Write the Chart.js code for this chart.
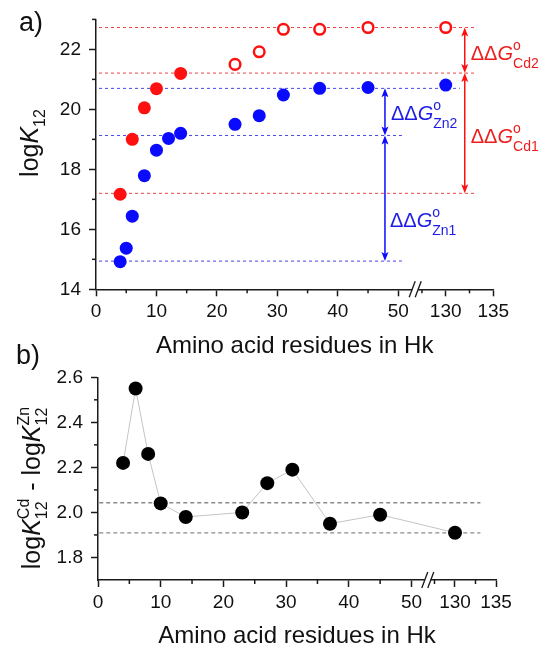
<!DOCTYPE html>
<html>
<head>
<meta charset="utf-8">
<script src="https://cdn.jsdelivr.net/npm/chart.js@4.4.1/dist/chart.umd.min.js"></script>
<style>
  html, body { margin: 0; padding: 0; background: #fff; }
  #wrap { position: relative; width: 541px; height: 648px; }
  canvas { position: absolute; left: 0; }
  #chart-a { top: 0; }
  #chart-b { top: 330px; }
</style>
</head>
<body>
<div id="wrap">
  <canvas id="chart-a" width="541" height="360"></canvas>
  <canvas id="chart-b" width="541" height="318"></canvas>
</div>
<script>
const FONT = '"Liberation Sans", Arial, sans-serif';
const AXIS = '#1a1a1a';
const RED = '#ff1010';
const BLUE = '#0a0aff';

// a) logK12 vs residues
const residues = [4, 5, 6, 8, 10, 12, 14, 23, 27, 31, 37, 45, 130];
const znLogK = [14.92, 15.37, 16.44, 17.79, 18.64, 19.03, 19.20, 19.50, 19.79, 20.48, 20.70, 20.73, 20.81];
const cdResiduesFilled = [4, 6, 8, 10, 14];
const cdLogKFilled = [17.17, 19.00, 20.05, 20.69, 21.20];
const cdResiduesOpen = [23, 27, 31, 37, 45, 130];
const cdLogKOpen = [21.50, 21.92, 22.67, 22.67, 22.73, 22.73];

// dashed levels and where they end
const cdLevels = [22.73, 21.21, 17.20];
const cdLevelEnds = [133.1, 133.1, 133.1];
const znLevels = [20.70, 19.13, 14.94];
const znLevelEnds = [131.5, 50.6, 50.6];
const cdArrowX = 132;
const znArrowX = 47.8;

// b) difference logK(Cd) - logK(Zn)
const diffResidues = [4, 6, 8, 10, 14, 23, 27, 31, 37, 45, 130];
const diffLogK = [2.22, 2.55, 2.26, 2.04, 1.98, 2.00, 2.13, 2.19, 1.95, 1.99, 1.91];
const diffLevels = [2.043, 1.909];
const diffLevelEnds = [133.1, 133.1];

const xTicks = [0, 10, 20, 30, 40, 50, 130, 135];
const xMinor = [5, 15, 25, 35, 45, 127.5, 132.5];
const yTicksA = [14, 16, 18, 20, 22];
const yMinorA = [15, 17, 19, 21, 23];
const yTicksB = [1.8, 2.0, 2.2, 2.4, 2.6];
const yMinorB = [1.9, 2.1, 2.3, 2.5];

// broken x axis: values above the break are squeezed next to 50
const bxA = x => x < 100 ? x : 57.85 + (x - 130) * 1.574;
const bxB = x => x < 100 ? x : 56.94 + (x - 130) * 1.308;

const pts = (xs, ys, f) => xs.map((x, i) => ({ x: f(x), y: ys[i] }));
const hline = (y, x0, x1, f) => [{ x: f(x0), y: y }, { x: f(x1), y: y }];

function setFont(ctx, size, italic) {
  ctx.font = (italic ? 'italic ' : '') + size + 'px ' + FONT;
}

// text with italic / sub / superscript pieces
function drawRich(ctx, x, y, parts, dry) {
  let cx = x;
  parts.forEach(p => {
    if (p.t !== undefined) {
      setFont(ctx, p.size, p.italic);
      if (!dry) ctx.fillText(p.t, cx, y);
      cx += ctx.measureText(p.t).width;
    } else {
      setFont(ctx, p.size, false);
      let w = 0;
      if (p.sup) {
        if (!dry) ctx.fillText(p.sup, cx, y - p.up);
        w = Math.max(w, ctx.measureText(p.sup).width);
      }
      if (p.sub) {
        if (!dry) ctx.fillText(p.sub, cx, y + p.down);
        w = Math.max(w, ctx.measureText(p.sub).width);
      }
      cx += w + (p.after || 0);
    }
  });
  return cx - x;
}

function line(ctx, x1, y1, x2, y2) {
  ctx.beginPath(); ctx.moveTo(x1, y1); ctx.lineTo(x2, y2); ctx.stroke();
}

function arrow(ctx, x, y1, y2, color) {
  const hl = 9, hw = 3.5;
  ctx.strokeStyle = color; ctx.fillStyle = color; ctx.lineWidth = 1.5;
  line(ctx, x, y1 + 4, x, y2 - 4);
  ctx.beginPath();
  ctx.moveTo(x, y1); ctx.lineTo(x - hw, y1 + hl); ctx.lineTo(x, y1 + hl - 2); ctx.lineTo(x + hw, y1 + hl);
  ctx.closePath(); ctx.fill();
  ctx.beginPath();
  ctx.moveTo(x, y2); ctx.lineTo(x - hw, y2 - hl); ctx.lineTo(x, y2 - hl + 2); ctx.lineTo(x + hw, y2 - hl);
  ctx.closePath(); ctx.fill();
}

function ddG(sub) {
  return [
    { t: '\u0394\u0394', size: 20 },
    { t: 'G', size: 20, italic: true },
    { sup: 'o', sub: sub, size: 14, up: 10, down: 8 }
  ];
}

function decor(cfg) {
  return {
    id: 'decor',
    afterDraw(chart) {
      const ctx = chart.ctx, xs = chart.scales.x, ys = chart.scales.y, area = chart.chartArea;
      ctx.save();
      // minor ticks
      ctx.strokeStyle = AXIS; ctx.lineWidth = 1.5;
      cfg.xMinor.forEach(v => {
        const px = xs.getPixelForValue(cfg.bx(v));
        line(ctx, px, area.bottom, px, area.bottom + 4);
      });
      cfg.yMinor.forEach(v => {
        const py = ys.getPixelForValue(v);
        line(ctx, area.left - 4, py, area.left, py);
      });
      // axis break //
      const bp = xs.getPixelForValue(cfg.breakAt), by = area.bottom;
      ctx.fillStyle = '#fff';
      ctx.fillRect(bp - 3, by - 2.5, 6, 5);
      ctx.strokeStyle = AXIS; ctx.lineWidth = 1.3;
      line(ctx, bp - 6, by + 8, bp, by - 8);
      line(ctx, bp, by + 8, bp + 6, by - 8);

      if (cfg.extra) cfg.extra(ctx, xs, ys);

      // y title
      ctx.fillStyle = '#111';
      ctx.textAlign = 'left'; ctx.textBaseline = 'alphabetic';
      ctx.save();
      ctx.translate(cfg.yTitle.x, cfg.yTitle.y);
      ctx.rotate(-Math.PI / 2);
      const w = drawRich(ctx, 0, 0, cfg.yTitle.parts, true);
      drawRich(ctx, -w / 2, 0, cfg.yTitle.parts);
      ctx.restore();

      // panel letter
      setFont(ctx, 27, false);
      ctx.textAlign = 'center'; ctx.textBaseline = 'middle';
      ctx.fillText(cfg.letter.t, cfg.letter.x, cfg.letter.y);
      ctx.restore();
    }
  };
}

function axes(bx, yMin, yMax, yTicks, yFmt, yWidth, xHeight, titlePad) {
  return {
    x: {
      type: 'linear', min: 0, max: bx(135),
      afterBuildTicks: s => { s.ticks = xTicks.map(v => ({ value: bx(v) })); },
      afterFit: s => { s.height = xHeight; },
      grid: { drawOnChartArea: false, tickLength: 7, tickColor: AXIS, tickWidth: 1.5 },
      border: { color: AXIS, width: 1.5 },
      ticks: {
        autoSkip: false, maxRotation: 0, padding: 4, color: '#111',
        font: { family: FONT, size: 19 },
        callback: (v, i) => String(xTicks[i])
      },
      title: {
        display: true, text: 'Amino acid residues in Hk', color: '#111',
        font: { family: FONT, size: 24, lineHeight: 1 },
        padding: { top: 0, bottom: titlePad }
      }
    },
    y: {
      type: 'linear', min: yMin, max: yMax,
      afterBuildTicks: s => { s.ticks = yTicks.map(v => ({ value: v })); },
      afterFit: s => { s.width = yWidth; },
      grid: { drawOnChartArea: false, tickLength: 7, tickColor: AXIS, tickWidth: 1.5 },
      border: { color: AXIS, width: 1.5 },
      ticks: {
        padding: 8, color: '#111',
        font: { family: FONT, size: 19 },
        callback: yFmt
      }
    }
  };
}

const common = {
  responsive: false,
  animation: false,
  plugins: { legend: { display: false }, tooltip: { enabled: false } }
};

// ---------- panel a ----------
const dashA = [];
cdLevels.forEach((y, i) => dashA.push({
  data: hline(y, 0.5, cdLevelEnds[i], bxA), showLine: true, pointRadius: 0,
  borderColor: 'rgb(236,70,70)', borderWidth: 1, borderDash: [3, 3], order: 2
}));
znLevels.forEach((y, i) => dashA.push({
  data: hline(y, 0.5, znLevelEnds[i], bxA), showLine: true, pointRadius: 0,
  borderColor: 'rgb(70,70,236)', borderWidth: 1, borderDash: [3, 3], order: 2
}));

new Chart(document.getElementById('chart-a'), {
  type: 'scatter',
  data: {
    datasets: [
      { data: pts(residues, znLogK, bxA), pointRadius: 6.5, pointBorderWidth: 0,
        pointBackgroundColor: BLUE, order: 0 },
      { data: pts(cdResiduesFilled, cdLogKFilled, bxA), pointRadius: 6.5, pointBorderWidth: 0,
        pointBackgroundColor: RED, order: 0 },
      { data: pts(cdResiduesOpen, cdLogKOpen, bxA), pointRadius: 5.3, pointBorderWidth: 2.5,
        pointBorderColor: RED, pointBackgroundColor: '#fff', order: 0 }
    ].concat(dashA)
  },
  options: Object.assign({}, common, {
    layout: { padding: { left: 0, top: 19.3, right: 47.7, bottom: 0 } },
    scales: axes(bxA, 14, 23, yTicksA, v => String(v), 96, 70.7, 1.3)
  }),
  plugins: [decor({
    bx: bxA, xMinor: xMinor, yMinor: yMinorA, breakAt: 52.8,
    yTitle: { x: 38, y: 143, parts: [
      { t: 'log', size: 25 }, { t: 'K', size: 25, italic: true },
      { sub: '12', size: 16, down: 7 }
    ] },
    letter: { t: 'a)', x: 31, y: 24 },
    extra: (ctx, xs, ys) => {
      const cx = xs.getPixelForValue(bxA(cdArrowX));
      const zx = xs.getPixelForValue(bxA(znArrowX));
      for (let i = 0; i < cdLevels.length - 1; i++) {
        arrow(ctx, cx, ys.getPixelForValue(cdLevels[i]), ys.getPixelForValue(cdLevels[i + 1]), RED);
      }
      for (let i = 0; i < znLevels.length - 1; i++) {
        arrow(ctx, zx, ys.getPixelForValue(znLevels[i]), ys.getPixelForValue(znLevels[i + 1]), BLUE);
      }
      ctx.textAlign = 'left'; ctx.textBaseline = 'alphabetic';
      ctx.fillStyle = '#ee1c1c';
      drawRich(ctx, cx + 6, ys.getPixelForValue(21.64), ddG('Cd2'));
      drawRich(ctx, cx + 6, ys.getPixelForValue(18.88), ddG('Cd1'));
      ctx.fillStyle = '#1c1ce6';
      drawRich(ctx, zx + 6, ys.getPixelForValue(19.64), ddG('Zn2'));
      drawRich(ctx, zx + 5, ys.getPixelForValue(16.08), ddG('Zn1'));
    }
  })]
});

// ---------- panel b ----------
const dashB = diffLevels.map((y, i) => ({
  data: hline(y, 0.2, diffLevelEnds[i], bxB), showLine: true, pointRadius: 0,
  borderColor: '#8a8a8a', borderWidth: 1.3, borderDash: [4, 3], order: 2
}));

new Chart(document.getElementById('chart-b'), {
  type: 'scatter',
  data: {
    datasets: [
      { data: pts(diffResidues, diffLogK, bxB), showLine: true,
        borderColor: '#c4c4c4', borderWidth: 1,
        pointRadius: 7, pointBorderWidth: 0, pointBackgroundColor: '#000', order: 0 }
    ].concat(dashB)
  },
  options: Object.assign({}, common, {
    layout: { padding: { left: 0, top: 47.3, right: 45, bottom: 0 } },
    scales: axes(bxB, 1.7, 2.6, yTicksB, v => v.toFixed(1), 98, 68, 0)
  }),
  plugins: [decor({
    bx: bxB, xMinor: xMinor, yMinor: yMinorB, breakAt: 52.6,
    yTitle: { x: 40, y: 158, parts: [
      { t: 'log', size: 25 }, { t: 'K', size: 25, italic: true },
      { sup: 'Cd', sub: '12', size: 16, up: 11, down: 7, after: 1 },
      { t: ' - log', size: 25 }, { t: 'K', size: 25, italic: true },
      { sup: 'Zn', sub: '12', size: 16, up: 11, down: 7 }
    ] },
    letter: { t: 'b)', x: 28, y: 27 }
  })]
});
</script>
</body>
</html>
